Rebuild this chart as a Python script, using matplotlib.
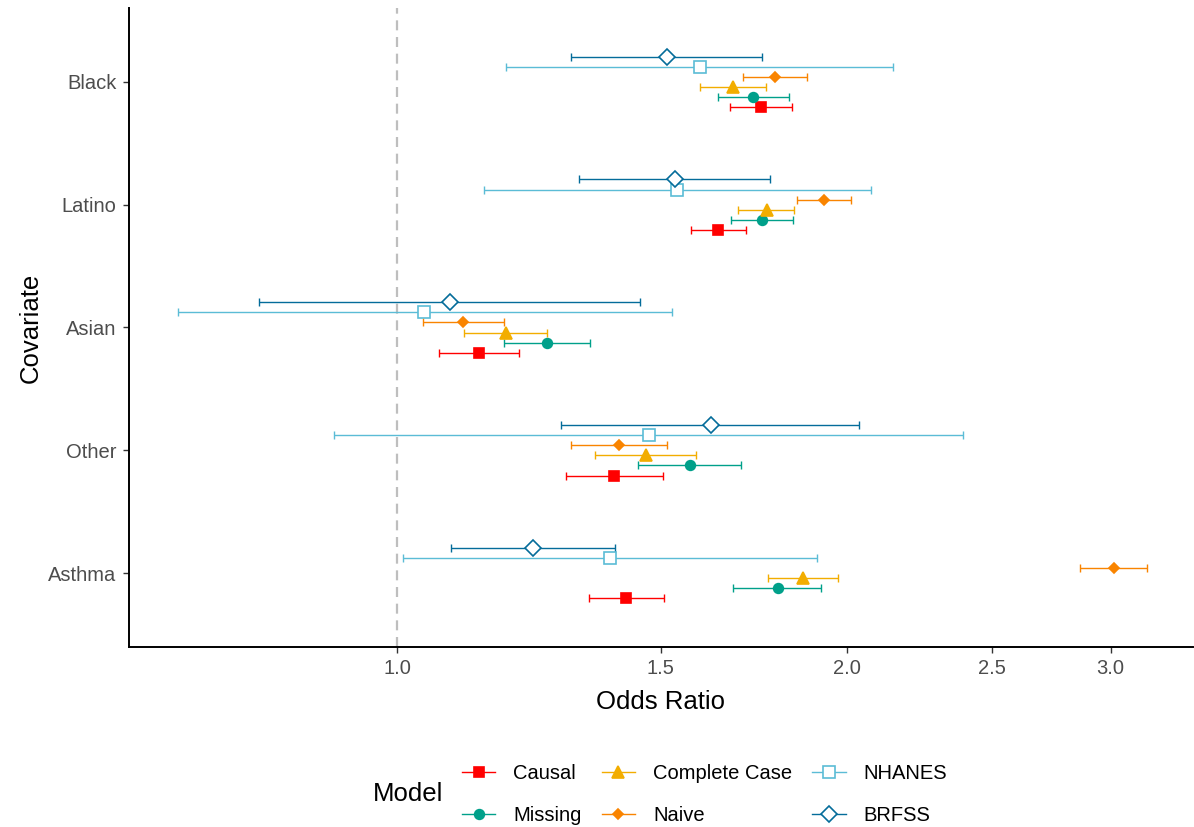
import matplotlib.pyplot as plt
from matplotlib.lines import Line2D
import numpy as np

plt.rcParams['font.family'] = ['Liberation Sans', 'DejaVu Sans']

# categories, top to bottom
covariates = ['Black', 'Latino', 'Asian', 'Other', 'Asthma']

# odds ratios (estimate, lower, upper) per model, in covariate order
causal = [1.751, 1.639, 1.134, 1.397, 1.422]
causal_lo = [1.669, 1.572, 1.066, 1.296, 1.343]
causal_hi = [1.838, 1.710, 1.206, 1.505, 1.507]

missing = [1.730, 1.753, 1.259, 1.569, 1.797]
missing_lo = [1.638, 1.672, 1.179, 1.449, 1.677]
missing_hi = [1.828, 1.840, 1.345, 1.699, 1.922]

complete_case = [1.677, 1.766, 1.183, 1.467, 1.868]
complete_case_lo = [1.594, 1.691, 1.109, 1.356, 1.771]
complete_case_hi = [1.764, 1.842, 1.259, 1.584, 1.971]

naive = [1.790, 1.929, 1.107, 1.408, 3.014]
naive_lo = [1.704, 1.850, 1.041, 1.307, 2.862]
naive_hi = [1.880, 2.012, 1.178, 1.516, 3.175]

nhanes = [1.593, 1.539, 1.042, 1.473, 1.387]
nhanes_lo = [1.182, 1.143, 0.713, 0.907, 1.009]
nhanes_hi = [2.146, 2.074, 1.526, 2.391, 1.909]

brfss = [1.515, 1.533, 1.084, 1.621, 1.233]
brfss_lo = [1.307, 1.323, 0.808, 1.287, 1.087]
brfss_hi = [1.755, 1.776, 1.453, 2.037, 1.398]

models = ['Causal', 'Missing', 'Complete Case', 'Naive', 'NHANES', 'BRFSS']
colors = ['#FF0000', '#00A08A', '#F2AD00', '#F98400', '#5BBCD6', '#046C9A']
series = [(causal, causal_lo, causal_hi), (missing, missing_lo, missing_hi),
          (complete_case, complete_case_lo, complete_case_hi),
          (naive, naive_lo, naive_hi), (nhanes, nhanes_lo, nhanes_hi),
          (brfss, brfss_lo, brfss_hi)]
markers = ['s', 'o', '^', 'D', 's', 'D']
msizes = [7, 7, 8, 5, 8, 8.5]
filled = [True, True, True, True, False, False]
# vertical order inside each group (top = negative)
offsets = [2.5, 1.5, 0.5, -0.5, -1.5, -2.5]
step = 0.082

fig = plt.figure(figsize=(11.94, 8.27), dpi=100)
ax = fig.add_axes([129 / 1194, 1 - 647 / 827, 1 - 129 / 1194 - 0.001, (647 - 8) / 827])

ax.axvline(1.0, color='#BEBEBE', lw=1.6, ls=(0, (4.5, 3)), zorder=0)

ypos = np.arange(len(covariates))
for (est, lo, hi), col, mk, ms, fl, off in zip(series, colors, markers, msizes, filled, offsets):
    est = np.array(est)
    y = ypos + off * step
    err = [est - np.array(lo), np.array(hi) - est]
    ax.errorbar(est, y, xerr=err, fmt='none', ecolor=col, elinewidth=1.0,
                capsize=3, capthick=1.0, zorder=2)
    ax.plot(est, y, ls='none', marker=mk, ms=ms, color=col,
            mfc=col if fl else 'white', mec=col, mew=1.2, zorder=3)

ax.set_xscale('log')
ax.set_xlim(0.6616, 3.405)
ax.set_xticks([1.0, 1.5, 2.0, 2.5, 3.0])
ax.set_xticklabels(['1.0', '1.5', '2.0', '2.5', '3.0'])
ax.xaxis.set_minor_locator(plt.NullLocator())
ax.set_yticks(ypos)
ax.set_yticklabels(covariates)
ax.set_ylim(len(covariates) - 1 + 0.6, -0.6)

for s in ['top', 'right']:
    ax.spines[s].set_visible(False)
for s in ['left', 'bottom']:
    ax.spines[s].set_linewidth(1.4)
ax.tick_params(axis='both', length=4, width=1.0, color='#333333',
               labelcolor='#4D4D4D', labelsize=14.5, pad=5)

ax.set_xlabel('Odds Ratio', fontsize=18.5, labelpad=8)
ax.set_ylabel('Covariate', fontsize=18.5, labelpad=4)

handles = []
for col, mk, ms, fl in zip(colors, markers, msizes, filled):
    handles.append(Line2D([], [], color=col, lw=1.0, marker=mk, ms=ms,
                          mfc=col if fl else 'white', mec=col, mew=1.2))
fig.legend(handles, models, ncol=3, loc='center left',
           bbox_to_anchor=(462 / 1194, 1 - 794.5 / 827), frameon=False,
           fontsize=14.5, handlelength=1.65, handletextpad=0.9,
           columnspacing=1.0, labelspacing=1.15, borderpad=0, borderaxespad=0)
fig.text(373 / 1194, 1 - 794 / 827, 'Model', fontsize=18.5, va='center', ha='left')

fig.savefig('out.png', dpi=100)
